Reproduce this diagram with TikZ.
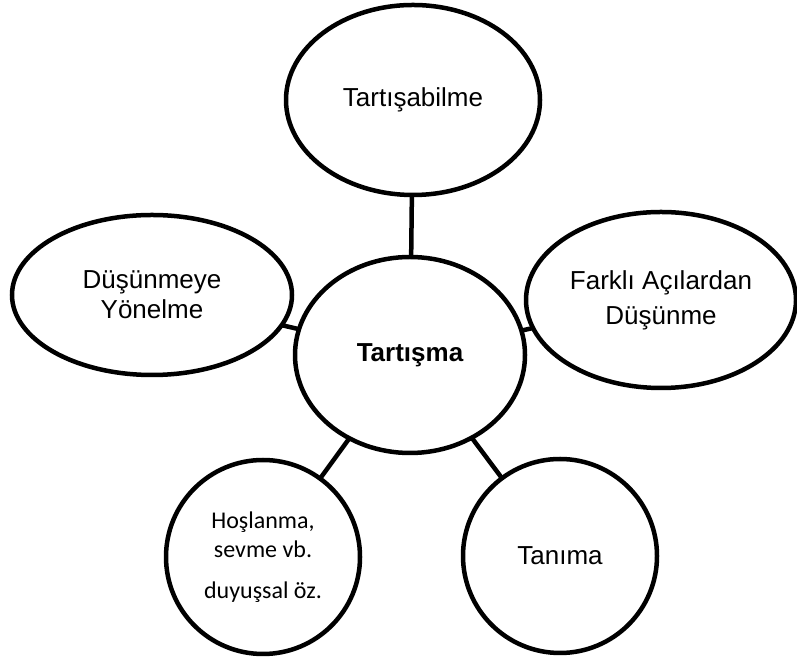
\documentclass[tikz,border=0pt]{standalone}
\usepackage{fontspec}
\setmainfont{Liberation Sans}
\newfontfamily\calibri{Carlito}
\usetikzlibrary{shapes.geometric}

\begin{document}
\begin{tikzpicture}[x=1pt, y=1pt,
    bubble/.style={draw, ellipse, line width=4.5pt, inner sep=0pt, outer sep=0pt,
      align=center, font=\fontsize{26}{30}\selectfont},
    link/.style={line width=4.5pt}]
  \useasboundingbox (0,0) rectangle (797,660);
  \node[bubble, minimum width=254, minimum height=190] (top) at (413,560) {Tartışabilme};
  \node[bubble, minimum width=230, minimum height=196] (mid) at (410,305) {\bfseries Tartışma};
  \node[bubble, minimum width=280, minimum height=160] (left) at (152,365) {Düşünmeye\\Yönelme};
  \node[bubble, minimum width=270, minimum height=176,
        font=\fontsize{26}{35}\selectfont] (right) at (661,360) {Farklı Açılardan\\Düşünme};
  \node[bubble, minimum width=194, minimum height=194,
        font=\calibri\fontsize{24}{29}\selectfont] (affect) at (263,103)
        {Hoşlanma,\\sevme vb.\\[12pt]duyuşsal öz.};
  \node[bubble, minimum width=194, minimum height=194] (know) at (560,104) {Tanıma};
  \draw[link] (mid) -- (top);
  \draw[link] (mid) -- (left);
  \draw[link] (mid) -- (right);
  \draw[link] (mid) -- (affect);
  \draw[link] (mid) -- (know);
\end{tikzpicture}
\end{document}
